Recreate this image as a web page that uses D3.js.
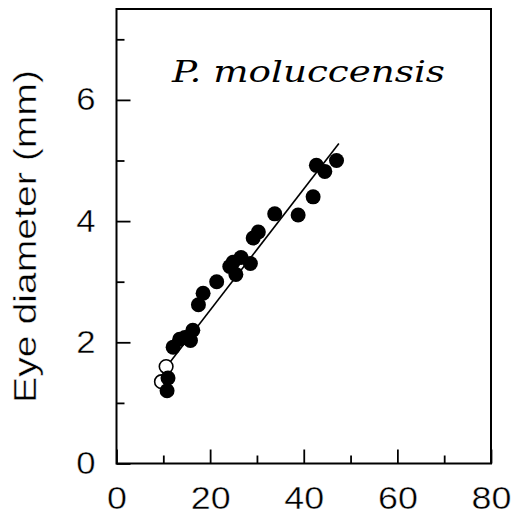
<!DOCTYPE html>
<html>
<head>
<meta charset="utf-8">
<script src="https://cdn.jsdelivr.net/npm/d3@7"></script>
<style>
  html, body { margin: 0; padding: 0; background: #fff; }
  svg { display: block; }
</style>
</head>
<body>
<script>
// Body length (mm) vs eye diameter (mm)
const filledX = [10.8, 11.0, 12.1, 13.5, 14.6, 15.8, 16.3, 17.5, 18.5, 21.4, 24.2, 24.9, 25.5, 26.6, 28.6, 29.2, 30.3, 33.8, 38.8, 42.0, 42.7, 44.5, 47.0];
const filledY = [1.20, 1.41, 1.92, 2.05, 2.08, 2.03, 2.20, 2.62, 2.81, 3.00, 3.25, 3.32, 3.12, 3.40, 3.30, 3.72, 3.82, 4.12, 4.10, 4.40, 4.92, 4.82, 5.00];
const openX = [9.6, 10.6];
const openY = [1.35, 1.60];
// fitted regression line (end points)
const fitX = [11.0, 47.5];
const fitY = [1.63, 5.28];

const xMajor = [0, 20, 40, 60, 80];
const xMinor = [10, 30, 50, 70];
const yMajor = [0, 2, 4, 6];
const yMinor = [1, 3, 5, 7];

const W = 512, H = 520;
const plotL = 116.5, plotR = 491, plotT = 9, plotB = 463.5;
const labelStretch = 1.12;   // slightly wide sans-serif digits

const svg = d3.select("body").append("svg").attr("width", W).attr("height", H);

const x = d3.scaleLinear().domain([0, 80]).range([plotL, plotR]);
const y = d3.scaleLinear().domain([0, 7.5]).range([plotB, plotT]);

const tickFont = "'Liberation Sans', Arial, Helvetica, sans-serif";

// x axis: major ticks with labels, minor ticks without
const gx = svg.append("g").attr("transform", `translate(0,${plotB})`)
  .call(d3.axisBottom(x).tickValues(xMajor).tickSize(-14).tickPadding(23).tickFormat(d3.format("d")));
svg.append("g").attr("transform", `translate(0,${plotB})`)
  .call(d3.axisBottom(x).tickValues(xMinor).tickSize(-8).tickFormat(""));

// y axis
const gy = svg.append("g").attr("transform", `translate(${plotL},0)`)
  .call(d3.axisLeft(y).tickValues(yMajor).tickSize(-14).tickPadding(21).tickFormat(d3.format("d")));
svg.append("g").attr("transform", `translate(${plotL},0)`)
  .call(d3.axisLeft(y).tickValues(yMinor).tickSize(-8).tickFormat(""));

svg.selectAll(".domain").remove();
svg.selectAll(".tick line").attr("stroke", "#000").attr("stroke-width", 1.8);
svg.selectAll(".tick text")
  .attr("font-family", tickFont).attr("font-size", 31).attr("fill", "#000")
  .attr("stroke", "#fff").attr("stroke-width", 0.4);
gx.selectAll(".tick text").attr("font-size", 32).attr("transform", `scale(${labelStretch},1)`);
gy.selectAll(".tick text")
  .attr("x", -21 / labelStretch)
  .attr("transform", `scale(${labelStretch},1)`);

// plot frame
svg.append("rect")
  .attr("x", plotL).attr("y", plotT)
  .attr("width", plotR - plotL).attr("height", plotB - plotT)
  .attr("fill", "none").attr("stroke", "#000").attr("stroke-width", 2);

// regression line
svg.append("line")
  .attr("x1", x(fitX[0])).attr("y1", y(fitY[0]))
  .attr("x2", x(fitX[1])).attr("y2", y(fitY[1]))
  .attr("stroke", "#000").attr("stroke-width", 1.6);

// open symbols
svg.append("g").selectAll("circle").data(openX.map((v, i) => [v, openY[i]]))
  .join("circle")
  .attr("cx", d => x(d[0])).attr("cy", d => y(d[1])).attr("r", 6.8)
  .attr("fill", "#fff").attr("stroke", "#000").attr("stroke-width", 1.6);

// filled symbols
svg.append("g").selectAll("circle").data(filledX.map((v, i) => [v, filledY[i]]))
  .join("circle")
  .attr("cx", d => x(d[0])).attr("cy", d => y(d[1])).attr("r", 7.5)
  .attr("fill", "#000");

// species name
svg.append("text")
  .attr("x", 172).attr("y", 82)
  .attr("font-family", "'DejaVu Serif', 'Liberation Serif', serif")
  .attr("font-style", "italic").attr("font-size", 29)
  .attr("textLength", 273).attr("lengthAdjust", "spacingAndGlyphs")
  .attr("fill", "#000")
  .text("P.  moluccensis");

// y axis title
svg.append("text")
  .attr("transform", `translate(36,${236.5}) rotate(-90)`)
  .attr("text-anchor", "middle")
  .attr("font-family", tickFont).attr("font-size", 32)
  .attr("textLength", 333).attr("lengthAdjust", "spacingAndGlyphs")
  .attr("fill", "#000")
  .attr("stroke", "#fff").attr("stroke-width", 0.4)
  .text("Eye diameter (mm)");
</script>
</body>
</html>
